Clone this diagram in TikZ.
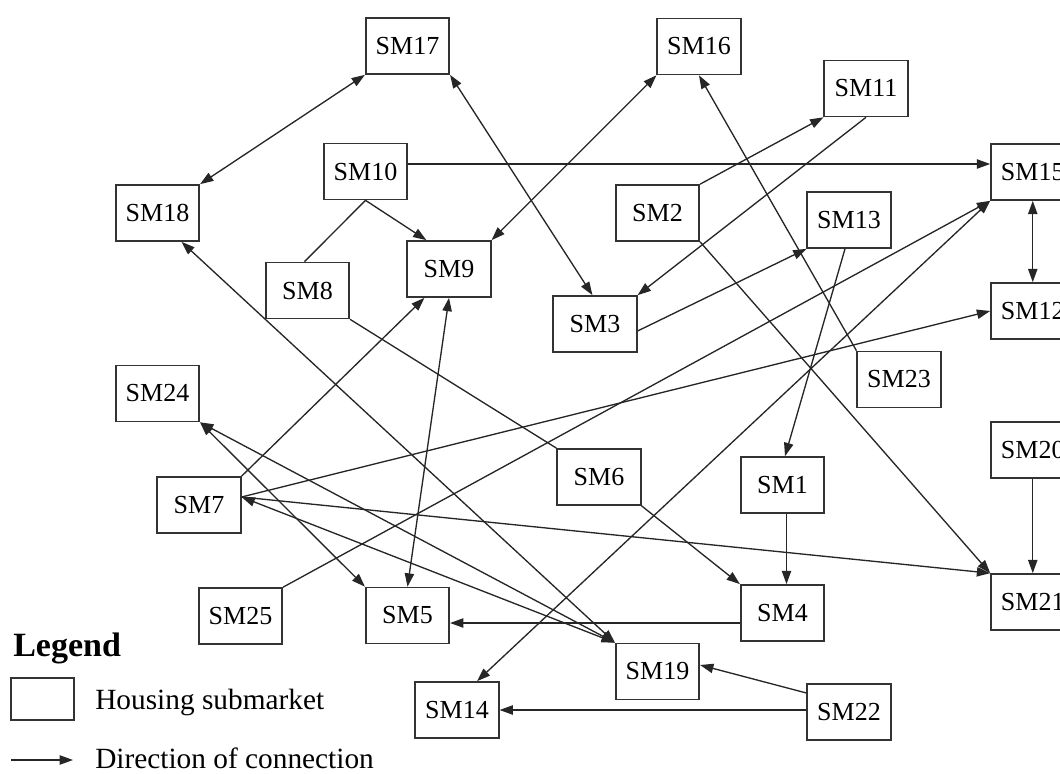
\documentclass[tikz,border=0pt]{standalone}
\usepackage{fontspec}
\setmainfont{Liberation Serif}
\usetikzlibrary{arrows.meta,calc}
\begin{document}
\begin{tikzpicture}[x=0.75pt,y=-0.75pt,
  >={Triangle[length=10pt,width=7pt]},
  sm/.style={draw=black!80, line width=1.25pt, minimum width=62.6pt, minimum height=42pt,
    inner sep=0pt, font=\fontsize{19.5}{22}\selectfont},
  edge/.style={draw=black!85, line width=1pt},
  legtext/.style={font=\fontsize{22}{26}\selectfont, anchor=base west, inner sep=0pt}]
\useasboundingbox (0,0) rectangle (1060,774);
\clip (0,0) rectangle (1060,774);
% nodes
\node[sm] (SM17) at (407.5,46) {SM17};
\node[sm] (SM16) at (699,46.5) {SM16};
\node[sm] (SM11) at (866,88.5) {SM11};
\node[sm] (SM10) at (365.5,171.5) {SM10};
\node[sm] (SM15) at (1032.75,172) {SM15};
\node[sm] (SM18) at (157.5,213) {SM18};
\node[sm] (SM2) at (657.5,213) {SM2};
\node[sm] (SM13) at (849,220) {SM13};
\node[sm] (SM8) at (307.5,290.5) {SM8};
\node[sm] (SM9) at (449,269) {SM9};
\node[sm] (SM3) at (595,324) {SM3};
\node[sm] (SM12) at (1032.75,311) {SM12};
\node[sm] (SM23) at (899,379.5) {SM23};
\node[sm] (SM24) at (157.5,393.5) {SM24};
\node[sm] (SM20) at (1032.75,450) {SM20};
\node[sm] (SM6) at (599,477) {SM6};
\node[sm] (SM1) at (782.5,485) {SM1};
\node[sm] (SM7) at (199,505) {SM7};
\node[sm] (SM21) at (1032.75,602) {SM21};
\node[sm] (SM25) at (240.5,616) {SM25};
\node[sm] (SM5) at (407.5,615.5) {SM5};
\node[sm] (SM4) at (782.5,613) {SM4};
\node[sm] (SM19) at (657.5,671.5) {SM19};
\node[sm] (SM22) at (849,712) {SM22};
\node[sm] (SM14) at (457,710) {SM14};
% edges
\draw[edge,<->] (SM18.north east) -- (SM17.south west);
\draw[edge,<->] (SM17.south east) -- ($(SM3.north west)+(40,0)$);
\draw[edge,->] ($(SM10.east)+(0,-7.5)$) -- ($(SM15.west)+(0,-8)$);
\draw[edge,->] (SM10.south) -- ($(SM9.north west)+(20,0)$);
\draw[edge] (SM10.south) -- ($(SM8.north)+(-3,0)$);
\draw[edge,<->] (SM9.north east) -- (SM16.south west);
\draw[edge,<->] ($(SM18.south)+(24,0)$) -- (SM19.north west);
\draw[edge,<->] (SM24.south east) -- (SM5.north west);
\draw[edge,<->] (SM24.south east) -- (SM19.north west);
\draw[edge,<->] ($(SM7.east)+(0,-8)$) -- (SM19.north west);
\draw[edge,->] ($(SM7.east)+(0,-8)$) -- (SM21.north west);
\draw[edge,->] ($(SM7.east)+(0,-8)$) -- (SM12.west);
\draw[edge,->] (SM7.north east) -- ($(SM9.south west)+(18,0)$);
\draw[edge,<->] (SM9.south) -- (SM5.north);
\draw[edge] (SM8.south east) -- (SM6.north west);
\draw[edge,->] (SM6.south east) -- (SM4.north west);
\draw[edge,->] (SM11.south) -- (SM3.north east);
\draw[edge,->] (SM2.north east) -- (SM11.south west);
\draw[edge,->] (SM2.south east) -- (SM21.north west);
\draw[edge,->] (SM23.north west) -- (SM16.south);
\draw[edge,->] ($(SM3.east)+(0,7)$) -- (SM13.south west);
\draw[edge,->] ($(SM13.south)+(-4,0)$) -- ($(SM1.north)+(2.5,0)$);
\draw[edge,<->] (SM15.south) -- (SM12.north);
\draw[edge,->] (SM25.north east) -- (SM15.south west);
\draw[edge,<->] ($(SM14.north)+(20,0)$) -- (SM15.south west);
\draw[edge,->] (SM20.south) -- (SM21.north);
\draw[edge,->] ($(SM1.south)+(4,0)$) -- ($(SM4.north)+(4,0)$);
\draw[edge,->] ($(SM4.west)+(0,10)$) -- ($(SM5.east)+(0,7.5)$);
\draw[edge,->] ($(SM22.west)+(0,-19)$) -- ($(SM19.east)+(0,-6.5)$);
\draw[edge,->] ($(SM22.west)+(0,-2)$) -- (SM14.east);
% legend
\node[font=\bfseries\fontsize{25.5}{30}\selectfont, anchor=base west, inner sep=0pt] (leg) at (13,656) {Legend};
\node[draw=black!80, line width=1.25pt, minimum width=47.25pt, minimum height=31.5pt, inner sep=0pt] (legbox) at (42.5,699) {};
\node[legtext] (legtxt1) at (95,709.4) {Housing submarket};
\coordinate (la) at (11,760);
\coordinate (lb) at (73,760);
\draw[edge,->] (la) -- (lb);
\node[legtext] (legtxt2) at (95,768.7) {Direction of connection};
\end{tikzpicture}
\end{document}
